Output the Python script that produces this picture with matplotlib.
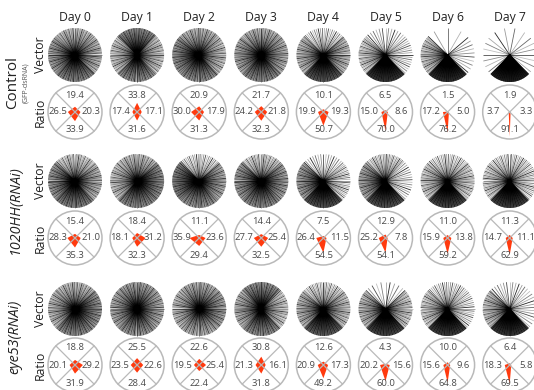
import numpy as np
import matplotlib.pyplot as plt
from matplotlib.collections import LineCollection
from matplotlib.patches import Circle, Polygon

plt.rcParams["font.family"] = ["Open Sans", "DejaVu Sans"]

days = [f"Day {d}" for d in range(8)]
groups = ["Control", "1020HH(RNAi)", "eye53(RNAi)"]

# percent of vectors in each quadrant (up, right, down, left) per day
control_up = [19.4, 33.8, 20.9, 21.7, 10.1, 6.5, 1.5, 1.9]
control_right = [20.3, 17.1, 17.9, 21.8, 19.3, 8.6, 5.0, 3.3]
control_down = [33.9, 31.6, 31.3, 32.3, 50.7, 70.0, 76.2, 91.1]
control_left = [26.5, 17.4, 30.0, 24.2, 19.9, 15.0, 17.2, 3.7]

hh1020_up = [15.4, 18.4, 11.1, 14.4, 7.5, 12.9, 11.0, 11.3]
hh1020_right = [21.0, 31.2, 23.6, 25.4, 11.5, 7.8, 13.8, 11.1]
hh1020_down = [35.3, 32.3, 29.4, 32.5, 54.5, 54.1, 59.2, 62.9]
hh1020_left = [28.3, 18.1, 35.9, 27.7, 26.4, 25.2, 15.9, 14.7]

eye53_up = [18.8, 25.5, 22.6, 30.8, 12.6, 4.3, 10.0, 6.4]
eye53_right = [29.2, 22.6, 25.4, 16.1, 17.3, 15.6, 9.6, 5.8]
eye53_down = [31.9, 28.4, 22.4, 31.8, 49.2, 60.0, 64.8, 69.5]
eye53_left = [20.1, 23.5, 19.5, 21.3, 20.9, 20.2, 15.6, 18.3]

ratios = [
    (control_up, control_right, control_down, control_left),
    (hh1020_up, hh1020_right, hh1020_down, hh1020_left),
    (eye53_up, eye53_right, eye53_down, eye53_left),
]

W, H = 534, 390
fig = plt.figure(figsize=(W / 100, H / 100), dpi=100)
ax = fig.add_axes([0, 0, 1, 1])
ax.set_xlim(0, W)
ax.set_ylim(H, 0)
ax.set_aspect("equal")
ax.axis("off")

R = 27
col_x = 75 + 62.1 * np.arange(len(days))
vec_y = [55, 181, 309]
ratio_y = [112, 238, 365]
shades = [0.3, 0.6, 0.4, 0.85, 0.35, 0.5, 0.25, 0.7, 0.45]
grey = "#b9b9b9"
num_color = "#4a4a4a"
text_color = "#222222"


def draw_vectors(cx, cy, quads, per_pct=2):
    # per_pct lines for every percent, fanned across the quadrant
    segs, colors = [], []
    k = 0
    for pct, mid in zip(quads, [90, 0, 270, 180]):
        n = int(round(pct * per_pct))
        for j in range(n):
            a = np.deg2rad(mid - 45 + 90 * (j + 0.5) / n)
            segs.append([(cx, cy), (cx + R * np.cos(a), cy - R * np.sin(a))])
            colors.append((0, 0, 0, shades[k % len(shades)]))
            k += 1
    ax.add_collection(LineCollection(segs, colors=colors, linewidths=0.6))


def draw_ratio(cx, cy, up, right, down, left):
    s = R / 100
    ax.add_patch(Polygon([(cx, cy - up * s), (cx + right * s, cy),
                          (cx, cy + down * s), (cx - left * s, cy)],
                         closed=True, fc="#ff3a0e", ec="none", zorder=2))
    d = R / np.sqrt(2)
    ax.plot([cx - d, cx + d], [cy - d, cy + d], color=grey, lw=0.9, zorder=3)
    ax.plot([cx - d, cx + d], [cy + d, cy - d], color=grey, lw=0.9, zorder=3)
    ax.add_patch(Circle((cx, cy), R, fill=False, ec=grey, lw=1.1, zorder=3))
    kw = dict(ha="center", va="center", fontsize=6.8, color=num_color, zorder=4)
    ax.text(cx, cy - 17, f"{up:.1f}", **kw)
    ax.text(cx + 16, cy, f"{right:.1f}", **kw)
    ax.text(cx, cy + 18, f"{down:.1f}", **kw)
    ax.text(cx - 17, cy, f"{left:.1f}", **kw)


for i, day in enumerate(days):
    ax.text(col_x[i], 17, day, ha="center", va="center", fontsize=8.8, color=text_color)

for g, (up, right, down, left) in enumerate(ratios):
    for i in range(len(days)):
        q = (up[i], right[i], down[i], left[i])
        draw_vectors(col_x[i], vec_y[g], q)
        draw_ratio(col_x[i], ratio_y[g], *q)
    ax.text(40, vec_y[g], "Vector", rotation=90, ha="center", va="center",
            fontsize=8.8, color=text_color)
    ax.text(40, ratio_y[g], "Ratio", rotation=90, ha="center", va="center",
            fontsize=8.8, color=text_color)

mid_y = [(v + r) / 2 for v, r in zip(vec_y, ratio_y)]
ax.text(13, mid_y[0] - 1, groups[0], rotation=90, ha="center", va="center",
        fontsize=11, color=text_color)
ax.text(26, mid_y[0] - 1, "(GFP-dsRNA)", rotation=90, ha="center", va="center",
        fontsize=5, color="#555555")
for g in (1, 2):
    ax.text(15, mid_y[g], groups[g], rotation=90, ha="center", va="center",
            fontsize=10.3, style="italic", color=text_color)

fig.savefig("out.png", dpi=100)
